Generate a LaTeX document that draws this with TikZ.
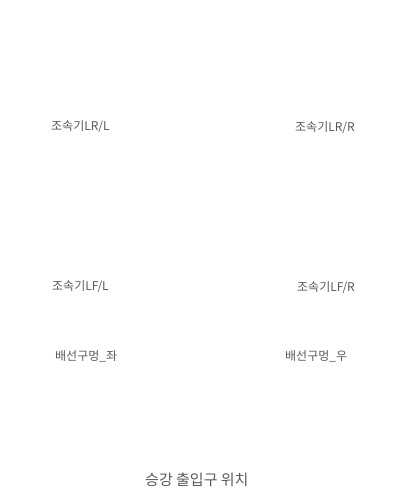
\documentclass[tikz,border=0pt]{standalone}
\usepackage{fontspec}
\newfontfamily\kr{Noto Sans CJK KR}
\tikzset{
  lbl/.style={font=\kr\fontsize{12}{13}\selectfont, text=black!65, inner sep=0pt, anchor=west},
  ttl/.style={font=\kr\fontsize{15}{16}\selectfont, text=black!65, inner sep=0pt, anchor=west}
}
\begin{document}
\begin{tikzpicture}[x=1pt,y=-1pt]
\useasboundingbox[fill=white] (0,0) rectangle (403,497);
\node[lbl] (lrl) at (51,127) {조속기LR/L};
\node[lbl] (lrr) at (295,128) {조속기LR/R};
\node[lbl] (lfl) at (52,287) {조속기LF/L};
\node[lbl] (lfr) at (297,288) {조속기LF/R};
\node[lbl] (hl) at (55,356) {배선구멍\_좌};
\node[lbl] (hr) at (285,356) {배선구멍\_우};
\node[ttl] (ent) at (145,480) {승강 출입구 위치};
\end{tikzpicture}
\end{document}
